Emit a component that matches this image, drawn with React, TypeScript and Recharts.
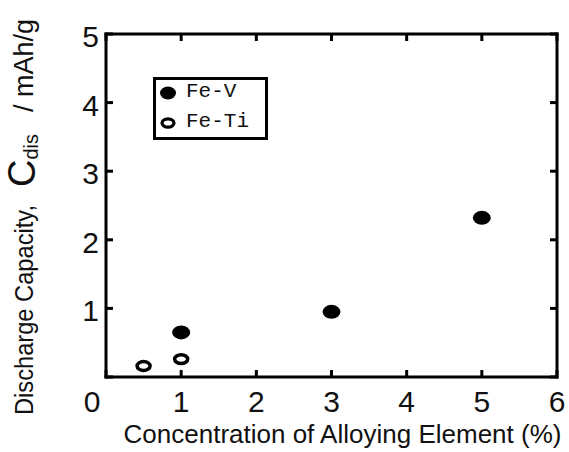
import React from 'react';
import { ScatterChart, Scatter, XAxis, YAxis, Legend } from 'recharts';

// ---- data ----
const feVConc = [1, 3, 5];
const feVCap = [0.65, 0.95, 2.32];
const feTiConc = [0.5, 1];
const feTiCap = [0.16, 0.26];
const xTicks = [0, 1, 2, 3, 4, 5, 6];
const yTicks = [0, 1, 2, 3, 4, 5];
const seriesNames = ['Fe-V', 'Fe-Ti'];
const xTitle = 'Concentration of Alloying Element (%)';
const yTitleMain = 'Discharge Capacity,';
const yTitleSym = 'C';
const yTitleSub = 'dis';
const yTitleUnit = '/ mAh/g';

const feVData = feVConc.map((x, i) => ({ x, y: feVCap[i] }));
const feTiData = feTiConc.map((x, i) => ({ x, y: feTiCap[i] }));

const W = 569;
const H = 452;
const TICK = 7;
const SANS = '"Liberation Sans", Arial, Helvetica, sans-serif';
const MONO = '"Liberation Mono", "Courier New", monospace';
const INK = '#111';

const FilledMark = (p: any) => <ellipse cx={p.cx} cy={p.cy} rx={9} ry={7} fill="#000" />;
const OpenMark = (p: any) => (
  <ellipse cx={p.cx} cy={p.cy} rx={6.5} ry={4.4} fill="#fff" stroke="#000" strokeWidth={3.5} />
);
const NoMark = () => <g />;
const NoTick = () => <g />;

const BottomTick = (p: any) => {
  const { x, y, payload } = p;
  const v = payload.value;
  return (
    <text x={x + (v === 0 ? -14 : 0)} y={y + 35} textAnchor="middle" fontSize={30} fontFamily={SANS} fill={INK}>
      {v}
    </text>
  );
};

const LeftTick = (p: any) => {
  const { x, y, payload } = p;
  const v = payload.value;
  if (v === 0) return <g />;
  return (
    <text x={x - 7} y={y + 13} textAnchor="end" fontSize={30} fontFamily={SANS} fill={INK}>
      {v}
    </text>
  );
};

const XTitle = (p: any) => {
  const vb = p.viewBox || { x: 106, y: 377, width: 451, height: 75 };
  return (
    <text
      x={vb.x + vb.width / 2 + 11}
      y={vb.y + 66}
      textAnchor="middle"
      fontSize={26}
      fontFamily={SANS}
      fill={INK}
    >
      {xTitle}
    </text>
  );
};

const YTitle = (p: any) => {
  const vb = p.viewBox || { x: 0, y: 34, width: 106, height: 343 };
  const bottom = vb.y + vb.height;
  const bx = vb.x + 33;
  const s1 = bottom + 38;
  const s2 = vb.y + 153;
  const s3 = vb.y + 78;
  return (
    <g fill={INK} fontFamily={SANS}>
      <text
        x={bx}
        y={s1}
        transform={`rotate(-90, ${bx}, ${s1})`}
        fontSize={25}
        textLength={210}
        lengthAdjust="spacingAndGlyphs"
      >
        {yTitleMain}
      </text>
      <text x={bx + 2} y={s2} transform={`rotate(-90, ${bx + 2}, ${s2})`}>
        <tspan fontSize={38}>{yTitleSym}</tspan>
        <tspan fontSize={20} dy={3}>{yTitleSub}</tspan>
      </text>
      <text x={bx} y={s3} transform={`rotate(-90, ${bx}, ${s3})`} fontSize={27}>
        {yTitleUnit}
      </text>
    </g>
  );
};

const markFor: Record<string, 'filled' | 'open'> = { 'Fe-V': 'filled', 'Fe-Ti': 'open' };

const LegendBox = (p: any) => {
  const payload = (p.payload || [])
    .filter((e: any) => seriesNames.includes(e.value))
    .sort((a: any, b: any) => seriesNames.indexOf(a.value) - seriesNames.indexOf(b.value));
  return (
    <div
      style={{
        position: 'relative',
        width: 115,
        height: 63,
        boxSizing: 'border-box',
        border: '3px solid #000',
        background: '#fff',
      }}
    >
      {payload.map((e: any, i: number) => {
        const name = e.value;
        const top = 3 + i * 30;
        return (
          <div key={name} style={{ position: 'absolute', left: 0, top, height: 20, width: 109 }}>
            <svg width={24} height={20} style={{ position: 'absolute', left: 0, top: 0 }}>
              {markFor[name] === 'filled' ? (
                <ellipse cx={12} cy={10} rx={8} ry={6.5} fill="#000" />
              ) : (
                <ellipse cx={12} cy={10} rx={6} ry={4.2} fill="#fff" stroke="#000" strokeWidth={3.2} />
              )}
            </svg>
            <span
              style={{
                position: 'absolute',
                left: 30,
                top: -3,
                fontFamily: MONO,
                fontSize: 21,
                lineHeight: '24px',
                color: INK,
                whiteSpace: 'nowrap',
              }}
            >
              {name}
            </span>
          </div>
        );
      })}
    </div>
  );
};

const axisLine = { stroke: '#000', strokeWidth: 3, strokeLinecap: 'square' as const };
const tickLine = { stroke: '#000', strokeWidth: 3 };

export default function App() {
  return (
    <div style={{ position: 'absolute', left: 0, top: 0, width: W, height: H, background: '#fff' }}>
      <ScatterChart width={W} height={H} margin={{ top: 33, right: 11, bottom: 0, left: 0 }}>
        <XAxis
          xAxisId="b"
          dataKey="x"
          type="number"
          domain={[0, 6]}
          ticks={xTicks}
          orientation="bottom"
          height={75}
          axisLine={axisLine}
          tickLine={tickLine}
          tickSize={-TICK}
          tickMargin={TICK}
          tick={<BottomTick />}
          interval={0}
          label={<XTitle />}
          allowDataOverflow
        />
        <XAxis
          xAxisId="t"
          dataKey="x"
          type="number"
          domain={[0, 6]}
          ticks={xTicks}
          orientation="top"
          height={1}
          axisLine={axisLine}
          tickLine={tickLine}
          tickSize={-TICK}
          tickMargin={0}
          tick={<NoTick />}
          interval={0}
          allowDataOverflow
        />
        <YAxis
          yAxisId="l"
          dataKey="y"
          type="number"
          domain={[0, 5]}
          ticks={yTicks}
          orientation="left"
          width={106}
          axisLine={axisLine}
          tickLine={tickLine}
          tickSize={-TICK}
          tickMargin={TICK}
          tick={<LeftTick />}
          interval={0}
          label={<YTitle />}
          allowDataOverflow
        />
        <YAxis
          yAxisId="r"
          dataKey="y"
          type="number"
          domain={[0, 5]}
          ticks={yTicks}
          orientation="right"
          width={1}
          axisLine={axisLine}
          tickLine={tickLine}
          tickSize={-TICK}
          tickMargin={0}
          tick={<NoTick />}
          interval={0}
          allowDataOverflow
        />
        <Legend
          layout="vertical"
          align="center"
          verticalAlign="middle"
          content={<LegendBox />}
          wrapperStyle={{ left: 153, top: 77, width: 115, height: 63 }}
        />
        <Scatter
          name={seriesNames[0]}
          data={feVData}
          xAxisId="b"
          yAxisId="l"
          shape={<FilledMark />}
          fill="#000"
          isAnimationActive={false}
        />
        <Scatter
          name={seriesNames[1]}
          data={feTiData}
          xAxisId="b"
          yAxisId="l"
          shape={<OpenMark />}
          fill="#fff"
          isAnimationActive={false}
        />
        {/* invisible carrier so the mirrored top/right frame axes are drawn */}
        <Scatter
          name="frame"
          data={feVData}
          xAxisId="t"
          yAxisId="r"
          shape={<NoMark />}
          legendType="none"
          isAnimationActive={false}
        />
      </ScatterChart>
    </div>
  );
}
